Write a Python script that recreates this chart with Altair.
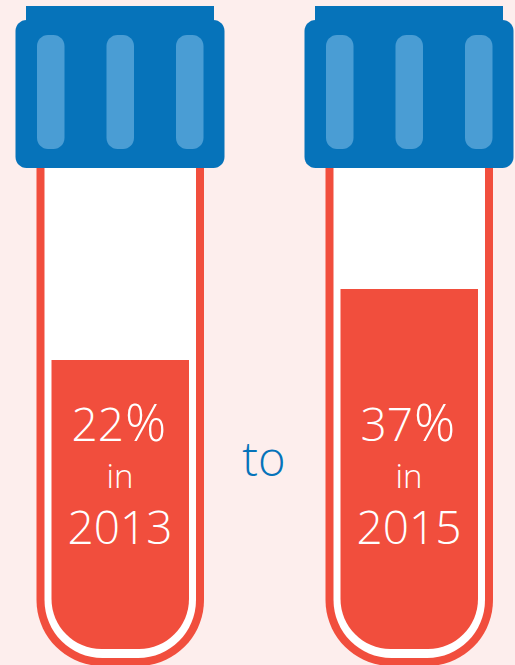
import altair as alt
import pandas as pd

# Share of the population in each survey year
years = ["2013", "2015"]
shares = [22, 37]
joiner = "to"

BLUE = "#0673ba"
SLOT = "#4a9dd4"
RED = "#f14e3d"
PAPER = "#fdeeed"
FONT = "Open Sans"

# Horizontal offset of each tube, in pixels
offsets = [0, 289]
slot_lefts = [37, 106.5, 176]


def box(x0, x1, y0, y1, color, **radius):
    """A decorative rounded rectangle in pixel space."""
    return alt.Chart(pd.DataFrame({"k": [0]})).mark_rect(color=color, **radius).encode(
        x=alt.value(x0), x2=alt.value(x1), y=alt.value(y0), y2=alt.value(y1)
    )


def label(text, x, y, size, color="white", align="center"):
    return alt.Chart(pd.DataFrame({"t": [text]})).mark_text(
        font=FONT, fontSize=size, fontWeight=300, color=color, align=align, baseline="alphabetic"
    ).encode(text="t:N", x=alt.value(x), y=alt.value(y))


share_scale = alt.Scale(domain=[-42.4, 98], range=[665, 0], nice=False, zero=False)
layers = []

for off, year, share in zip(offsets, years, shares):
    # Glass: red wall with a white interior
    layers.append(box(36.5 + off, 204 + off, 160, 666, RED,
                      cornerRadiusBottomLeft=66, cornerRadiusBottomRight=66))
    layers.append(box(44.5 + off, 196 + off, 160, 658, "white",
                      cornerRadiusBottomLeft=58, cornerRadiusBottomRight=58))

    # Liquid level, driven by the share value
    frame = pd.DataFrame({"share": [share]})
    layers.append(
        alt.Chart(frame).mark_rect(color=RED, cornerRadiusBottomLeft=50, cornerRadiusBottomRight=50).encode(
            x=alt.value(51.5 + off),
            x2=alt.value(189 + off),
            y=alt.Y("share:Q", scale=share_scale, axis=None),
            y2=alt.value(649),
        )
    )

    # Screw cap
    layers.append(box(26 + off, 214 + off, 6, 40, BLUE))
    layers.append(box(15.5 + off, 224.5 + off, 20, 168, BLUE, cornerRadius=11))
    for left in slot_lefts:
        layers.append(box(left + off, left + 27.5 + off, 35, 149, SLOT, cornerRadius=11))

    # Caption inside the liquid; the percent sign is set slightly larger
    cx = 120 + off
    layers.append(label(f"{share}", cx + 4, 441, 46, align="right"))
    layers.append(label("%", cx + 5, 441, 51, align="left"))
    layers.append(label("in", cx, 488, 33))
    layers.append(label(year, cx, 544, 46))

layers.append(label(joiner, 264, 476, 47, BLUE))

chart = (
    alt.layer(*layers)
    .properties(
        width=515,
        height=665,
        background=PAPER,
        padding=0,
        autosize=alt.AutoSizeParams(type="none"),
    )
    .configure_view(stroke=None)
)

chart.save("out.html", embed_options={"renderer": "svg", "actions": False})
